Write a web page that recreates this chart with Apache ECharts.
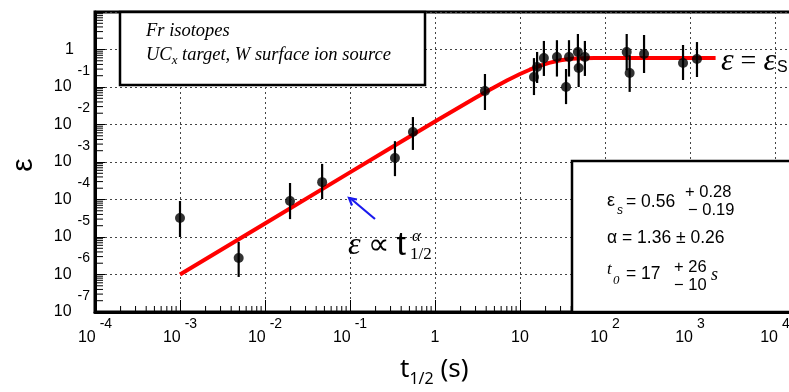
<!DOCTYPE html>
<html>
<head>
<meta charset="utf-8">
<script src="https://cdn.jsdelivr.net/npm/echarts@6/dist/echarts.min.js"></script>
<style>
  html, body { margin: 0; padding: 0; background: #fff; }
  #chart { width: 789px; height: 392px; }
</style>
</head>
<body>
<div id="chart"></div>
<script>
// Release efficiency of Fr isotopes versus half-life (UCx target, W surface ion source)
const halfLife   = [0.001, 0.0049, 0.0197, 0.047, 0.338, 0.55, 3.87, 14.6, 15.9, 19.1, 27.2, 34.8, 37.7, 48, 49, 58, 180, 195, 288, 828, 1208];
const efficiency = [3.2e-5, 2.75e-6, 9.1e-5, 2.9e-4, 1.28e-3, 6.3e-3, 0.078, 0.185, 0.34, 0.59, 0.63, 0.10, 0.63, 0.86, 0.32, 0.63, 0.86, 0.236, 0.76, 0.437, 0.56];
const errLow     = [1.0e-5, 8.6e-7, 3.0e-5, 1.03e-4, 4.2e-4, 2.1e-3, 0.0244, 0.061, 0.128, 0.197, 0.19, 0.035, 0.19, 0.28, 0.10, 0.197, 0.28, 0.074, 0.236, 0.154, 0.185];
const errHigh    = [9.1e-5, 7.4e-6, 2.75e-4, 8.9e-4, 3.6e-3, 0.0158, 0.222, 0.59, 0.86, 1.69, 1.77, 0.302, 1.77, 2.59, 0.99, 1.69, 2.59, 0.71, 2.44, 1.32, 1.58];

// Fitted curve: power law at short half-lives, saturating at eps_s
const fitHalfLife   = [0.001, 0.01, 0.1, 0.3, 1, 2, 3, 4, 5, 7, 10, 13, 17, 22, 30, 40, 55, 75, 100, 200, 500, 1000, 2000];
const fitEfficiency = [1.0e-6, 2.3e-5, 5.3e-4, 2.35e-3, 0.012, 0.0303, 0.0516, 0.0748, 0.0989, 0.1485, 0.222, 0.289, 0.366, 0.441, 0.518, 0.564, 0.585, 0.5896, 0.59, 0.59, 0.59, 0.59, 0.59];

// Decade exponents carrying tick labels
const xDecades = [-4, -3, -2, -1, 0, 1, 2, 3, 4, 5];
const yDecades = [-7, -6, -5, -4, -3, -2, -1, 0];
// Minor tick multipliers inside each decade
const minorSteps = [2, 3, 4, 5, 6, 7, 8, 9];

const LABEL_FONT = '"Liberation Sans", Arial, sans-serif';
const SERIF = '"Liberation Serif", "Times New Roman", serif';
const X_MIN = 1e-4, X_MAX = 1e5, Y_MIN = 1e-7, Y_MAX = 10;

function decadeOf(v) { return Math.round(Math.log10(v)); }

const xMinorTicks = [];
xDecades.slice(0, -1).forEach(e => minorSteps.forEach(m => xMinorTicks.push([m * Math.pow(10, e), Y_MIN])));
const yMinorTicks = [];
yDecades.concat([1]).slice(0, -1).forEach(e => minorSteps.forEach(m => yMinorTicks.push([X_MIN, m * Math.pow(10, e)])));

const chart = echarts.init(document.getElementById('chart'), null, { renderer: 'canvas' });

const dotted = { show: true, lineStyle: { color: '#444', width: 1, type: [2, 3] } };

chart.setOption({
  animation: false,
  backgroundColor: '#fff',
  grid: {
    left: 95, top: 12, bottom: 80, right: -71,
    outerBoundsMode: 'none', containLabel: false,
    show: true, borderColor: '#000', borderWidth: 3, backgroundColor: '#fff'
  },
  xAxis: {
    type: 'log', logBase: 10, min: X_MIN, max: X_MAX, splitNumber: 9,
    axisLine: { show: true, lineStyle: { color: '#000', width: 3 } },
    axisTick: { show: true, inside: true, length: 12, lineStyle: { color: '#000', width: 1 } },
    splitLine: dotted,
    axisLabel: {
      margin: 5,
      formatter: function (v) {
        const e = decadeOf(v);
        if (xDecades.indexOf(e) < 0) return '';
        if (e === 0) return '{b|1}';
        if (e === 1) return '{b|10}';
        return '{b|10}{s|' + e + '}';
      },
      rich: {
        b: { fontFamily: LABEL_FONT, fontSize: 16, color: '#000', lineHeight: 29, verticalAlign: 'bottom' },
        s: { fontFamily: LABEL_FONT, fontSize: 14, color: '#000', lineHeight: 14, verticalAlign: 'top', padding: [0, 0, 0, 4] }
      }
    }
  },
  yAxis: {
    type: 'log', logBase: 10, min: Y_MIN, max: Y_MAX, splitNumber: 8,
    axisLine: { show: true, lineStyle: { color: '#000', width: 3 } },
    axisTick: { show: true, inside: true, length: 10, lineStyle: { color: '#000', width: 1 } },
    splitLine: dotted,
    axisLabel: {
      margin: 5,
      formatter: function (v) {
        const e = decadeOf(v);
        if (yDecades.indexOf(e) < 0) return '';
        if (e === 0) return '{b|1}{p|}';
        return '{b|10}{s|' + e + '}';
      },
      rich: {
        b: { fontFamily: LABEL_FONT, fontSize: 16, color: '#000', lineHeight: 46, verticalAlign: 'middle' },
        s: { fontFamily: LABEL_FONT, fontSize: 14, color: '#000', lineHeight: 14, verticalAlign: 'top', padding: [0, 0, 0, 6] },
        p: { width: 16, lineHeight: 46 }
      }
    }
  },
  series: [
    {
      // minor ticks along the bottom axis
      type: 'custom', name: 'xMinor', data: xMinorTicks, silent: true, clip: false,
      renderItem: function (params, api) {
        const p = api.coord([api.value(0), api.value(1)]);
        return { type: 'line', shape: { x1: p[0], y1: p[1], x2: p[0], y2: p[1] - 6 },
                 style: { stroke: '#000', lineWidth: 1 } };
      },
      z: 2
    },
    {
      // minor ticks along the left axis
      type: 'custom', name: 'yMinor', data: yMinorTicks, silent: true, clip: false,
      renderItem: function (params, api) {
        const p = api.coord([api.value(0), api.value(1)]);
        return { type: 'line', shape: { x1: p[0], y1: p[1], x2: p[0] + 8, y2: p[1] },
                 style: { stroke: '#000', lineWidth: 1 } };
      },
      z: 2
    },
    {
      type: 'line', name: 'fit', data: fitHalfLife.map((t, i) => [t, fitEfficiency[i]]),
      smooth: false, showSymbol: false, symbol: 'none',
      lineStyle: { color: '#ff0000', width: 4, join: 'round' }, z: 3
    },
    {
      type: 'custom', name: 'errors',
      data: halfLife.map((t, i) => [t, errLow[i], errHigh[i]]),
      encode: { x: 0, y: [1, 2] },
      renderItem: function (params, api) {
        const p1 = api.coord([api.value(0), api.value(1)]);
        const p2 = api.coord([api.value(0), api.value(2)]);
        return { type: 'line', shape: { x1: p1[0], y1: p1[1], x2: p2[0], y2: p2[1] },
                 style: { stroke: '#000', lineWidth: 2.2 } };
      },
      z: 4
    },
    {
      type: 'scatter', name: 'data', data: halfLife.map((t, i) => [t, efficiency[i]]),
      symbol: 'circle', symbolSize: 10, itemStyle: { color: '#000' }, z: 5
    }
  ],
  graphic: [
    // y-axis title
    { type: 'text', x: 24, y: 165, rotation: Math.PI / 2, z: 12, style: {
        text: 'ε', fontFamily: LABEL_FONT, fontSize: 30, fill: '#000', align: 'center', verticalAlign: 'middle' } },

    // description box
    { type: 'rect', shape: { x: 120, y: 12, width: 305, height: 73 }, z: 10,
      style: { fill: '#fff', stroke: '#000', lineWidth: 2.5 } },
    { type: 'text', x: 146, y: 31, z: 11, style: {
        text: 'Fr isotopes', fontFamily: SERIF, fontStyle: 'italic', fontSize: 18.5, fill: '#000',
        verticalAlign: 'middle' } },
    { type: 'text', x: 146, y: 55, z: 11, style: {
        text: '{a|UC}{x|x}{a| target, W surface ion source}',
        verticalAlign: 'middle',
        rich: {
          a: { fontFamily: SERIF, fontStyle: 'italic', fontSize: 18.5, fill: '#000', lineHeight: 24, verticalAlign: 'middle' },
          x: { fontFamily: SERIF, fontStyle: 'italic', fontSize: 13, fill: '#000', lineHeight: 12, verticalAlign: 'bottom' }
        } } },

    // fit result box
    { type: 'rect', shape: { x: 572, y: 161, width: 240, height: 151 }, z: 10,
      style: { fill: '#fff', stroke: '#000', lineWidth: 2.5 } },
    { type: 'text', x: 607, y: 201, z: 11, style: { text: 'ε', fontFamily: LABEL_FONT, fontSize: 18, fill: '#000', verticalAlign: 'middle' } },
    { type: 'text', x: 617, y: 211, z: 11, style: { text: 's', fontFamily: LABEL_FONT, fontStyle: 'italic', fontSize: 12, fill: '#000', verticalAlign: 'middle' } },
    { type: 'text', x: 626, y: 202, z: 11, style: { text: '= 0.56', fontFamily: LABEL_FONT, fontSize: 17.5, fill: '#000', verticalAlign: 'middle' } },
    { type: 'text', x: 685, y: 192, z: 11, style: { text: '+ 0.28', fontFamily: LABEL_FONT, fontSize: 16.5, fill: '#000', verticalAlign: 'middle' } },
    { type: 'text', x: 688, y: 210, z: 11, style: { text: '− 0.19', fontFamily: LABEL_FONT, fontSize: 16.5, fill: '#000', verticalAlign: 'middle' } },
    { type: 'text', x: 607, y: 238, z: 11, style: { text: 'α = 1.36 ± 0.26', fontFamily: LABEL_FONT, fontSize: 17.5, fill: '#000', verticalAlign: 'middle' } },
    { type: 'text', x: 607, y: 270, z: 11, style: { text: 't', fontFamily: SERIF, fontStyle: 'italic', fontSize: 17, fill: '#000', verticalAlign: 'middle' } },
    { type: 'text', x: 613, y: 281, z: 11, style: { text: '0', fontFamily: SERIF, fontStyle: 'italic', fontSize: 13, fill: '#000', verticalAlign: 'middle' } },
    { type: 'text', x: 626, y: 274, z: 11, style: { text: '= 17', fontFamily: LABEL_FONT, fontSize: 17.5, fill: '#000', verticalAlign: 'middle' } },
    { type: 'text', x: 674, y: 267, z: 11, style: { text: '+ 26', fontFamily: LABEL_FONT, fontSize: 16.5, fill: '#000', verticalAlign: 'middle' } },
    { type: 'text', x: 674, y: 285, z: 11, style: { text: '− 10', fontFamily: LABEL_FONT, fontSize: 16.5, fill: '#000', verticalAlign: 'middle' } },
    { type: 'text', x: 711, y: 275, z: 11, style: { text: 's', fontFamily: SERIF, fontStyle: 'italic', fontSize: 18, fill: '#000', verticalAlign: 'middle' } },

    // power-law annotation and pointer
    { type: 'polyline', z: 12, shape: { points: [[375, 219], [350, 198]] },
      style: { stroke: '#1a1aee', lineWidth: 2.2 } },
    { type: 'polyline', z: 12, shape: { points: [[352, 205.5], [349, 198], [357, 199.5]] },
      style: { stroke: '#1a1aee', lineWidth: 2.2, fill: null } },
    { type: 'text', x: 348, y: 246, z: 12, style: {
        text: '{e|ε}{o| ∝ }{t|t}',
        verticalAlign: 'middle',
        rich: {
          e: { fontFamily: SERIF, fontStyle: 'italic', fontSize: 32, fill: '#000' },
          o: { fontFamily: SERIF, fontSize: 30, fill: '#000' },
          t: { fontFamily: LABEL_FONT, fontSize: 34, fill: '#000' }
        } } },
    { type: 'text', x: 412, y: 237, z: 12, style: { text: 'α', fontFamily: SERIF, fontStyle: 'italic', fontSize: 17, fill: '#000', verticalAlign: 'middle' } },
    { type: 'text', x: 410, y: 255, z: 12, style: { text: '1/2', fontFamily: SERIF, fontSize: 17, fill: '#000', verticalAlign: 'middle' } },

    // saturation label
    { type: 'text', x: 721, y: 62, z: 12, style: {
        text: '{e|ε}{o| = }{e|ε}',
        verticalAlign: 'middle',
        rich: {
          e: { fontFamily: SERIF, fontStyle: 'italic', fontSize: 32, fill: '#000' },
          o: { fontFamily: SERIF, fontSize: 28, fill: '#000' }
        } } },
    { type: 'text', x: 777, y: 68, z: 12, style: { text: 'S', fontFamily: LABEL_FONT, fontSize: 16, fill: '#000', verticalAlign: 'middle' } },

    // x-axis title
    { type: 'text', x: 400, y: 372, z: 12, style: {
        text: '{t|t}{s|1/2}{t| (s)}',
        verticalAlign: 'middle',
        rich: {
          t: { fontFamily: '"Noto Sans", sans-serif', fontSize: 26, fill: '#000', lineHeight: 30, verticalAlign: 'top' },
          s: { fontFamily: '"Noto Sans", sans-serif', fontSize: 16, fill: '#000', lineHeight: 16, verticalAlign: 'bottom' }
        } } }
  ]
});
</script>
</body>
</html>
